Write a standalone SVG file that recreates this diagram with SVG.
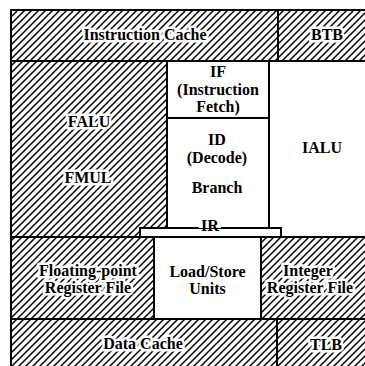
<svg xmlns="http://www.w3.org/2000/svg" width="365" height="366" viewBox="0 0 365 366">
<defs>
<pattern id="hatch" patternUnits="userSpaceOnUse" width="7" height="7">
<path d="M-1.75,1.75 l3.5,-3.5 M0,7 l7,-7 M5.25,8.75 l3.5,-3.5" stroke="#000" stroke-width="1.5"/>
</pattern>
</defs>
<style>
.hat{fill:url(#hatch);stroke:#000;stroke-width:2}
.wht{fill:#fff;stroke:#000;stroke-width:2}
text{font-family:"Liberation Serif","Times New Roman",serif;font-weight:bold;font-size:16px;text-anchor:middle;fill:#000}
.halo{stroke:#fff;stroke-width:5;stroke-linejoin:round;paint-order:stroke}
</style>
<rect width="365" height="366" fill="#fff"/>
<g id="icache"><rect class="hat" x="11" y="10" width="267" height="51"/><text class="halo" x="145" y="40">Instruction Cache</text></g>
<g id="btb"><rect class="hat" x="278" y="10" width="99" height="51"/><text class="halo" x="327" y="40">BTB</text></g>
<g id="falu-fmul"><rect class="hat" x="11" y="61" width="156" height="176"/><text class="halo" x="89" y="127">FALU</text><text class="halo" x="88" y="183">FMUL</text></g>
<g id="ialu"><rect class="wht" x="269" y="61" width="108" height="176"/><text x="322" y="153">IALU</text></g>
<g id="if"><rect class="wht" x="167" y="61" width="102" height="57"/><text x="218" y="77">IF</text><text x="218" y="95">(Instruction</text><text x="218" y="112">Fetch)</text></g>
<g id="id"><rect class="wht" x="167" y="118" width="102" height="110"/><text x="217" y="145">ID</text><text x="217" y="163">(Decode)</text><text x="217" y="193">Branch</text></g>
<g id="ir"><rect class="wht" x="140" y="228" width="141" height="9"/><rect x="199" y="220" width="22" height="8" fill="#fff"/><text x="210" y="231">IR</text></g>
<g id="fprf"><rect class="hat" x="11" y="237" width="143" height="82"/><text class="halo" x="88" y="276">Floating-point</text><text class="halo" x="88" y="293">Register File</text></g>
<g id="lsu"><rect class="wht" x="154" y="237" width="107" height="82"/><text x="207.5" y="277">Load/Store</text><text x="207.5" y="294">Units</text></g>
<g id="irf"><rect class="hat" x="261" y="237" width="116" height="82"/><text class="halo" x="308" y="276">Integer</text><text class="halo" x="310" y="293">Register File</text></g>
<g id="dcache"><rect class="hat" x="11" y="319" width="266" height="51"/><text class="halo" x="143" y="349">Data Cache</text></g>
<g id="tlb"><rect class="hat" x="277" y="319" width="100" height="51"/><text class="halo" x="326" y="350">TLB</text></g>
<g id="connectors"></g>
</svg>
